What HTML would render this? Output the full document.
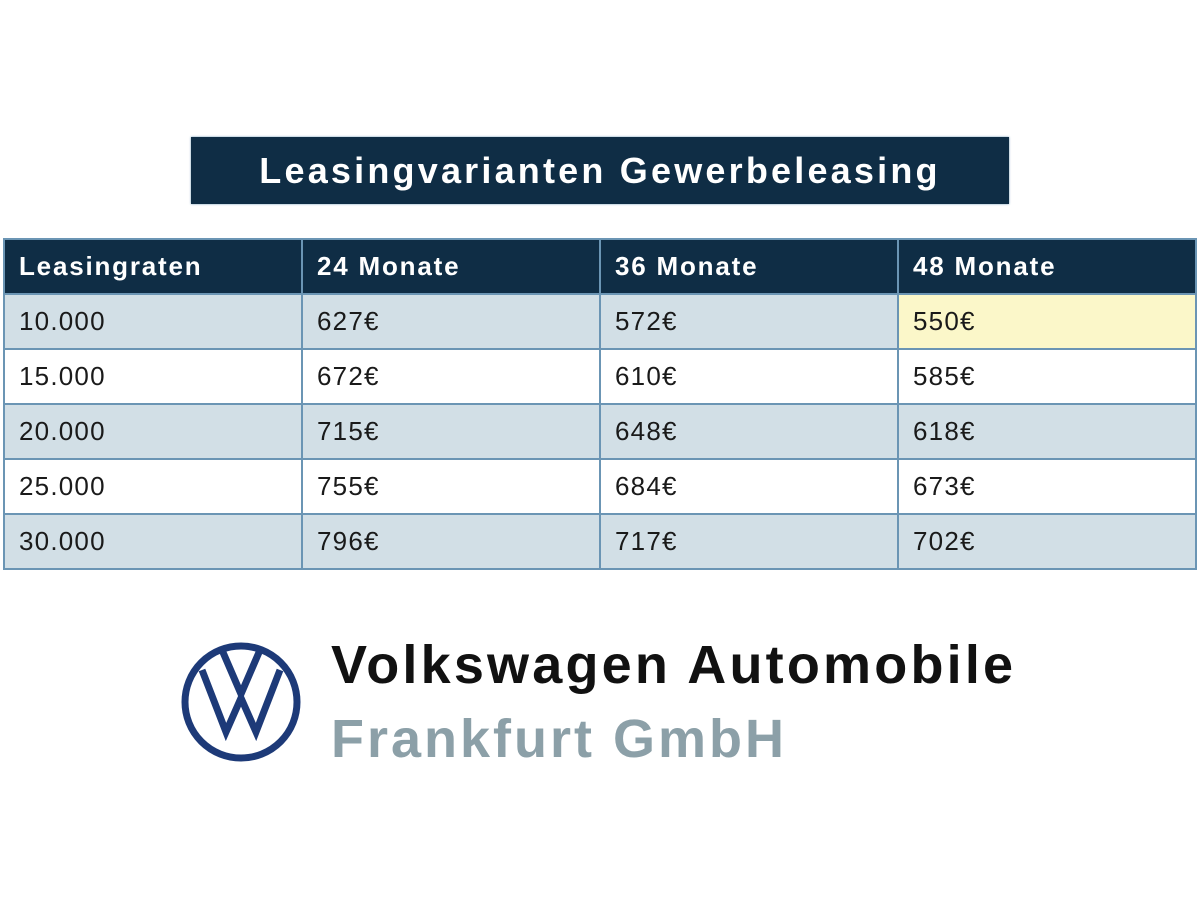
<!DOCTYPE html>
<html><head><meta charset="utf-8"><style>
body{margin:0;width:1200px;height:900px;background:#fff;position:relative;font-family:"Liberation Sans",sans-serif;overflow:hidden}
.title{position:absolute;left:191px;top:137px;width:818px;height:67px;background:#0f2d45;color:#fff;font-weight:bold;font-size:36px;line-height:67px;text-align:center;letter-spacing:3.2px;box-shadow:0 0 2px #6b95b4}
table{position:absolute;left:3px;top:238px;width:1194px;border-collapse:collapse;font-size:26px}
td{border:2px solid #6b95b4;height:55px;padding:0 0 0 14px;color:#1a1a1a;width:285px;letter-spacing:1.2px;box-sizing:border-box}
tr.h td{background:#0f2d45;color:#fff;font-weight:bold;height:55px;letter-spacing:1.8px}
tr.a td{background:#d2dfe6}
td.y{background:#fbf7c9!important}
.l1{position:absolute;left:331px;top:634px;font-size:54px;font-weight:bold;color:#111;letter-spacing:3.2px}
.l2{position:absolute;left:331px;top:708px;font-size:54px;font-weight:bold;color:#8ca0a8;letter-spacing:3px}
</style></head><body>
<div class="title">Leasingvarianten Gewerbeleasing</div>
<table>
<tr class="h"><td>Leasingraten</td><td>24 Monate</td><td>36 Monate</td><td>48 Monate</td></tr>
<tr class="a"><td>10.000</td><td>627€</td><td>572€</td><td class="y">550€</td></tr>
<tr><td>15.000</td><td>672€</td><td>610€</td><td>585€</td></tr>
<tr class="a"><td>20.000</td><td>715€</td><td>648€</td><td>618€</td></tr>
<tr><td>25.000</td><td>755€</td><td>684€</td><td>673€</td></tr>
<tr class="a"><td>30.000</td><td>796€</td><td>717€</td><td>702€</td></tr>
</table>
<svg style="position:absolute;left:178px;top:640px" width="126" height="124" viewBox="0 0 126 124">
<circle cx="63" cy="62" r="56" fill="none" stroke="#1d3a78" stroke-width="7"/>
<polyline points="24,30 48,92 63,58 78,92 102,30" fill="none" stroke="#1d3a78" stroke-width="7" stroke-linejoin="miter"/>
<polyline points="44,10 63,54 82,10" fill="none" stroke="#1d3a78" stroke-width="7"/>
</svg>
<div class="l1">Volkswagen Automobile</div>
<div class="l2">Frankfurt GmbH</div>
</body></html>
